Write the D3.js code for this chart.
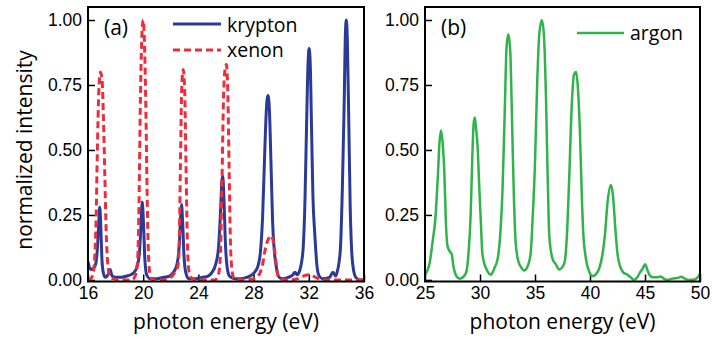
<!DOCTYPE html>
<html>
<head>
<meta charset="utf-8">
<script src="https://cdn.jsdelivr.net/npm/d3@7"></script>
<style>
  body { margin: 0; background: #fff; }
  svg { display: block; font-family: "Open Sans", sans-serif; }
  .tick text { font-size: 17.5px; fill: #000; }
  .tick line { stroke: #000; stroke-width: 1.5px; }
</style>
</head>
<body>
<svg id="chart" width="712" height="339"></svg>
<script>
// spectra: [photon energy (eV), normalized intensity]
var krypton = [
  [16.0,0.07],[16.1,0.05],[16.25,0.04],[16.4,0.045],[16.55,0.06],[16.68,0.12],[16.78,0.22],[16.85,0.28],
  [16.92,0.22],[17.0,0.09],[17.1,0.03],[17.25,0.01],[17.45,0.02],[17.6,0.04],[17.75,0.015],[18.0,0.01],
  [18.4,0.01],[18.8,0.015],[19.1,0.02],[19.35,0.03],[19.55,0.05],[19.72,0.1],[19.83,0.2],[19.93,0.30],
  [20.02,0.22],[20.12,0.08],[20.25,0.02],[20.5,0.005],[21.0,0.005],[21.5,0.01],[21.9,0.015],[22.2,0.03],
  [22.45,0.06],[22.62,0.14],[22.72,0.25],[22.78,0.29],[22.86,0.22],[22.96,0.09],[23.1,0.025],[23.3,0.005],
  [23.8,0.005],[24.3,0.01],[24.7,0.015],[25.0,0.03],[25.25,0.06],[25.45,0.12],[25.6,0.26],[25.7,0.38],
  [25.76,0.40],[25.84,0.33],[25.95,0.15],[26.08,0.05],[26.25,0.015],[26.6,0.005],[27.0,0.005],[27.5,0.01],
  [27.9,0.02],[28.15,0.035],[28.35,0.06],[28.5,0.11],[28.65,0.24],[28.8,0.48],[28.93,0.66],[29.04,0.71],
  [29.14,0.66],[29.26,0.45],[29.38,0.22],[29.52,0.1],[29.68,0.04],[29.85,0.01],[30.1,0.005],[30.5,0.01],
  [30.85,0.02],[31.0,0.03],[31.15,0.02],[31.3,0.03],[31.45,0.06],[31.6,0.13],[31.72,0.3],[31.84,0.6],
  [31.95,0.84],[32.02,0.89],[32.1,0.84],[32.2,0.58],[32.3,0.32],[32.43,0.18],[32.6,0.05],[32.75,0.015],
  [33.0,0.005],[33.5,0.01],[33.75,0.03],[33.95,0.015],[34.05,0.03],[34.17,0.06],[34.3,0.13],[34.43,0.35],
  [34.55,0.64],[34.66,0.96],[34.72,1.0],[34.79,0.93],[34.9,0.6],[35.0,0.28],[35.1,0.12],[35.25,0.035],
  [35.4,0.01],[35.7,0.0],[36.0,0.0]
];
var xenon = [
  [16.0,0.0],[16.2,0.005],[16.35,0.02],[16.47,0.07],[16.58,0.22],[16.68,0.5],[16.78,0.72],[16.9,0.80],
  [17.02,0.77],[17.12,0.62],[17.22,0.4],[17.32,0.18],[17.42,0.07],[17.55,0.02],[17.8,0.005],[18.5,0.0],
  [19.2,0.0],[19.45,0.02],[19.6,0.08],[19.7,0.3],[19.8,0.7],[19.92,0.96],[20.0,1.0],[20.08,0.93],
  [20.18,0.7],[20.28,0.35],[20.38,0.1],[20.5,0.02],[20.7,0.0],[21.5,0.0],[22.0,0.01],[22.3,0.03],
  [22.5,0.05],[22.6,0.12],[22.7,0.45],[22.8,0.75],[22.9,0.81],[23.0,0.74],[23.1,0.45],[23.2,0.15],
  [23.3,0.04],[23.45,0.01],[23.8,0.0],[25.2,0.0],[25.45,0.02],[25.58,0.08],[25.7,0.35],[25.82,0.7],
  [25.93,0.81],[26.03,0.83],[26.13,0.72],[26.23,0.42],[26.33,0.13],[26.45,0.03],[26.6,0.005],[27.5,0.0],
  [28.0,0.005],[28.4,0.02],[28.65,0.06],[28.85,0.12],[29.05,0.155],[29.28,0.17],[29.45,0.14],[29.6,0.08],
  [29.72,0.025],[29.9,0.005],[30.5,0.0],[31.2,0.005],[31.6,0.015],[32.0,0.02],[32.5,0.01],[33.0,0.0],
  [36.0,0.0]
];
var argon = [
  [25.0,0.02],[25.15,0.03],[25.4,0.06],[25.7,0.15],[25.95,0.24],[26.17,0.4],[26.32,0.53],[26.45,0.575],
  [26.6,0.53],[26.77,0.4],[26.9,0.22],[27.05,0.13],[27.25,0.11],[27.42,0.10],[27.6,0.05],[27.85,0.015],
  [28.15,0.005],[28.45,0.01],[28.75,0.03],[28.95,0.1],[29.15,0.25],[29.3,0.47],[29.42,0.6],[29.53,0.625],
  [29.65,0.58],[29.8,0.5],[29.92,0.37],[30.08,0.22],[30.2,0.11],[30.35,0.07],[30.6,0.04],[31.0,0.02],
  [31.3,0.045],[31.6,0.08],[31.85,0.18],[32.05,0.35],[32.25,0.65],[32.42,0.9],[32.58,0.945],[32.75,0.88],
  [32.92,0.6],[33.08,0.32],[33.25,0.14],[33.5,0.07],[33.8,0.045],[34.0,0.036],[34.3,0.05],[34.6,0.1],
  [34.8,0.25],[35.0,0.45],[35.2,0.76],[35.4,0.95],[35.62,1.0],[35.8,0.95],[36.0,0.7],[36.15,0.4],
  [36.3,0.17],[36.6,0.08],[36.9,0.06],[37.2,0.04],[37.5,0.05],[37.7,0.07],[37.9,0.17],[38.1,0.38],
  [38.35,0.68],[38.55,0.79],[38.74,0.8],[38.9,0.74],[39.1,0.55],[39.25,0.33],[39.4,0.17],[39.6,0.09],
  [39.95,0.03],[40.25,0.015],[40.5,0.02],[40.85,0.045],[41.1,0.09],[41.35,0.17],[41.6,0.3],[41.9,0.365],
  [42.1,0.32],[42.3,0.2],[42.5,0.1],[42.75,0.05],[43.0,0.03],[43.4,0.02],[43.7,0.01],[44.0,0.0],
  [44.3,0.01],[44.5,0.025],[44.8,0.045],[45.02,0.06],[45.2,0.04],[45.4,0.02],[45.7,0.01],[46.1,0.01],
  [46.45,0.013],[46.7,0.005],[47.0,0.0],[47.5,0.005],[48.0,0.008],[48.3,0.012],[48.6,0.005],[49.0,0.0],
  [49.5,0.002],[49.8,0.01],[50.0,0.025]
];

var ticksA = [16, 20, 24, 28, 32, 36];
var ticksB = [25, 30, 35, 40, 45, 50];
var ticksY = [0, 0.25, 0.5, 0.75, 1.0];

var blue = "#2b3a96", red = "#ee2d3b", green = "#2fb34a";

var svg = d3.select("#chart");

var y = d3.scaleLinear().domain([-0.006, 1.05]).range([281.5, 7]);
var xa = d3.scaleLinear().domain([16, 36]).range([88, 364]);
var xb = d3.scaleLinear().domain([25, 50]).range([425, 700]);

function panel(x, ticks, label) {
  var g = svg.append("g");
  var clipId = "clip" + label;
  svg.append("clipPath").attr("id", clipId)
    .append("rect")
    .attr("x", x.range()[0]).attr("y", y.range()[1])
    .attr("width", x.range()[1] - x.range()[0])
    .attr("height", y.range()[0] - y.range()[1]);

  g.append("g")
    .attr("transform", "translate(0," + y.range()[0] + ")")
    .call(d3.axisBottom(x).tickValues(ticks).tickSizeInner(-7).tickSizeOuter(0).tickPadding(5).tickFormat(d3.format("d")))
    .call(a => a.select(".domain").remove());

  g.append("g")
    .attr("transform", "translate(" + x.range()[0] + ",0)")
    .call(d3.axisLeft(y).tickValues(ticksY).tickSizeInner(-7).tickSizeOuter(0).tickPadding(6).tickFormat(d3.format(".2f")))
    .call(a => a.select(".domain").remove());

  g.selectAll(".tick text").attr("font-family", null);

  var plot = g.append("g").attr("clip-path", "url(#" + clipId + ")");

  g.append("rect")
    .attr("x", x.range()[0]).attr("y", y.range()[1])
    .attr("width", x.range()[1] - x.range()[0])
    .attr("height", y.range()[0] - y.range()[1])
    .attr("fill", "none").attr("stroke", "#000").attr("stroke-width", 2);

  g.append("text")
    .attr("x", (x.range()[0] + x.range()[1]) / 2)
    .attr("y", 329)
    .attr("text-anchor", "middle")
    .style("font-size", "21px")
    .text("photon energy (eV)");

  g.append("text")
    .attr("x", x.range()[0] + 16)
    .attr("y", 35)
    .style("font-size", "21px")
    .text("(" + label + ")");

  return plot;
}

function line(x) {
  return d3.line()
    .x(d => x(d[0]))
    .y(d => y(d[1]))
    .curve(d3.curveMonotoneX);
}

var pa = panel(xa, ticksA, "a");
var pb = panel(xb, ticksB, "b");

pa.append("path").datum(krypton)
  .attr("d", line(xa))
  .attr("fill", "none").attr("stroke", blue).attr("stroke-width", 3)
  .attr("stroke-linejoin", "round");

pa.append("path").datum(xenon)
  .attr("d", line(xa))
  .attr("fill", "none").attr("stroke", red).attr("stroke-width", 3)
  .attr("stroke-dasharray", "7,4");

pb.append("path").datum(argon)
  .attr("d", line(xb))
  .attr("fill", "none").attr("stroke", green).attr("stroke-width", 2.5)
  .attr("stroke-linejoin", "round");

// y axis title
svg.append("text")
  .attr("transform", "translate(32,150) rotate(-90)")
  .attr("text-anchor", "middle")
  .style("font-size", "21px")
  .text("normalized intensity");

// legends
var legend = [
  {name: "krypton", color: blue, dash: null, x1: 173, x2: 221, ly: 24, ty: 31.5},
  {name: "xenon", color: red, dash: "7,4", x1: 173, x2: 221, ly: 50, ty: 57},
  {name: "argon", color: green, dash: null, x1: 577, x2: 624, ly: 33, ty: 40}
];
legend.forEach(function(d) {
  svg.append("line")
    .attr("x1", d.x1).attr("x2", d.x2).attr("y1", d.ly).attr("y2", d.ly)
    .attr("stroke", d.color).attr("stroke-width", d.name == "argon" ? 2.5 : 3)
    .attr("stroke-dasharray", d.dash);
  svg.append("text")
    .attr("x", d.x2 + 6).attr("y", d.ty)
    .style("font-size", "19.5px")
    .text(d.name);
});
</script>
</body>
</html>
